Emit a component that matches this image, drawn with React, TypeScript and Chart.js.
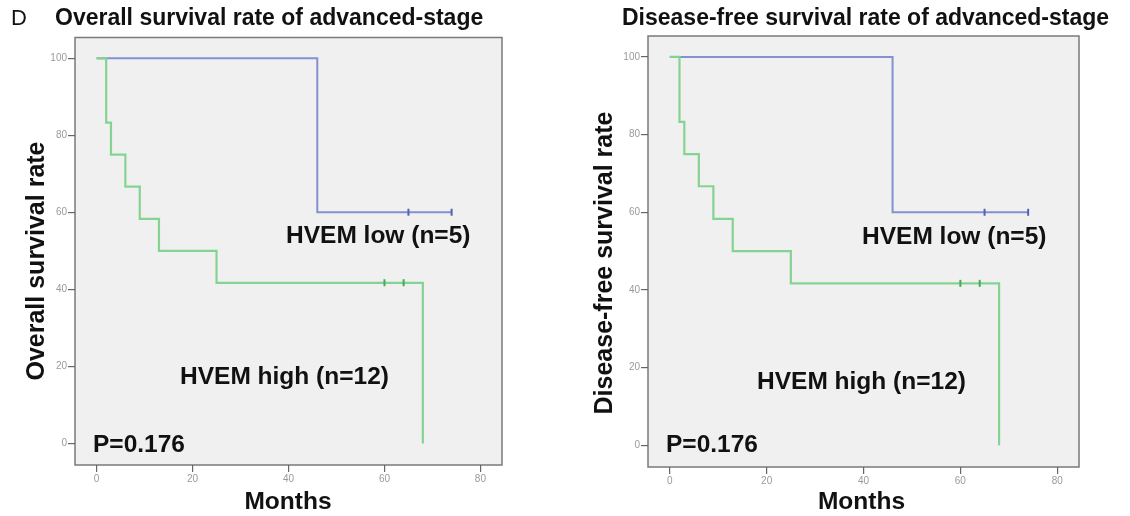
import React, { useEffect, useRef } from "react";
import { Chart, registerables } from "chart.js";

Chart.register(...registerables);

// ---- data ----
const xTickValues = [0, 20, 40, 60, 80];
const yTickValues = [0, 20, 40, 60, 80, 100];

const lowTimes = [0, 46, 74];
const lowSurvival = [100, 60, 60];
const lowCensorTimes = [65, 74];
const lowCensorSurvival = [60, 60];

const highTimes = [0, 2, 3, 6, 9, 13, 25, 68];
const highSurvival = [100, 83.3, 75, 66.7, 58.3, 50, 41.7, 0];
const highCensorTimes = [60, 64];
const highCensorSurvival = [41.7, 41.7];

const panelTitles = [
  "Overall survival rate of advanced-stage",
  "Disease-free survival rate of advanced-stage",
];
const yAxisTitles = ["Overall survival rate", "Disease-free survival rate"];
const xAxisTitle = "Months";
const lowLabel = "HVEM low (n=5)";
const highLabel = "HVEM high (n=12)";
const pLabel = "P=0.176";
const panelLetter = "D";

// ---- layout / style (not data) ----
const FONT = "'Liberation Sans', Arial, Helvetica, sans-serif";
const panels = [
  {
    offsetX: 0,
    left: 75,
    right: 502,
    top: 37.5,
    bottom: 465,
    letter: true,
    titleX: 55,
    yTitle: [37, 261],
    months: [288, 502],
    low: [286, 236],
    high: [180, 377],
    p: [93, 445],
  },
  {
    offsetX: 565,
    left: 83,
    right: 514,
    top: 36,
    bottom: 467,
    letter: false,
    titleX: 57,
    yTitle: [40, 263],
    months: [296.5, 502],
    low: [297, 237],
    high: [192, 382],
    p: [101, 445],
  },
];

const W = 565;
const H = 516;

function toPoints(xs: number[], ys: number[]) {
  return xs.map((x, i) => ({ x, y: ys[i] }));
}

function Panel({ index }: { index: number }) {
  const ref = useRef<HTMLCanvasElement>(null);
  const cfg = panels[index];

  useEffect(() => {
    if (!ref.current) return;
    const deco = {
      id: "deco",
      beforeDraw(chart: any) {
        const { ctx, chartArea: a } = chart;
        ctx.save();
        ctx.fillStyle = "#ffffff";
        ctx.fillRect(0, 0, chart.width, chart.height);
        ctx.fillStyle = "#f0f0f0";
        ctx.fillRect(a.left, a.top, a.right - a.left, a.bottom - a.top);
        ctx.strokeStyle = "#7a7a7a";
        ctx.lineWidth = 1.5;
        ctx.strokeRect(a.left, a.top, a.right - a.left, a.bottom - a.top);
        ctx.restore();
      },
      afterDraw(chart: any) {
        const { ctx } = chart;
        ctx.save();
        ctx.fillStyle = "#111111";
        ctx.textBaseline = "middle";
        ctx.textAlign = "left";
        if (cfg.letter) {
          ctx.font = `22px ${FONT}`;
          ctx.fillText(panelLetter, 11, 19);
        }
        ctx.font = `bold 23px ${FONT}`;
        ctx.fillText(panelTitles[index], cfg.titleX, 18.5);

        ctx.font = `bold 24.5px ${FONT}`;
        ctx.fillText(lowLabel, cfg.low[0], cfg.low[1]);
        ctx.fillText(highLabel, cfg.high[0], cfg.high[1]);
        ctx.font = `bold 24.5px ${FONT}`;
        ctx.fillText(pLabel, cfg.p[0], cfg.p[1]);

        ctx.textAlign = "center";
        ctx.font = `bold 24.5px ${FONT}`;
        ctx.fillText(xAxisTitle, cfg.months[0], cfg.months[1]);

        ctx.translate(cfg.yTitle[0], cfg.yTitle[1]);
        ctx.rotate(-Math.PI / 2);
        ctx.font = `bold 25px ${FONT}`;
        ctx.fillText(yAxisTitles[index], 0, 0);
        ctx.restore();
      },
    };

    const tickFont = { size: 10, family: FONT };
    const chart = new Chart(ref.current, {
      type: "line",
      data: {
        datasets: [
          {
            label: "HVEM high censored",
            data: toPoints(highCensorTimes, highCensorSurvival),
            showLine: false,
            pointStyle: "line",
            rotation: 90,
            pointRadius: 3.5,
            borderColor: "#3fae55",
            backgroundColor: "#3fae55",
            borderWidth: 2,
            order: 0,
          },
          {
            label: "HVEM low censored",
            data: toPoints(lowCensorTimes, lowCensorSurvival),
            showLine: false,
            pointStyle: "line",
            rotation: 90,
            pointRadius: 3.5,
            borderColor: "#5563b4",
            backgroundColor: "#5563b4",
            borderWidth: 2,
            order: 1,
          },
          {
            label: "HVEM high",
            data: toPoints(highTimes, highSurvival),
            stepped: "before",
            borderColor: "#85d392",
            borderWidth: 2.2,
            pointRadius: 0,
            fill: false,
            order: 2,
          },
          {
            label: "HVEM low",
            data: toPoints(lowTimes, lowSurvival),
            stepped: "before",
            borderColor: "#8590d0",
            borderWidth: 2,
            pointRadius: 0,
            fill: false,
            order: 3,
          },
        ] as any,
      },
      options: {
        responsive: false,
        animation: false,
        devicePixelRatio: 1,
        layout: {
          padding: { left: 0, right: W - cfg.right, top: cfg.top, bottom: 0 },
        },
        plugins: {
          legend: { display: false },
          title: { display: false },
          tooltip: { enabled: false },
        },
        scales: {
          x: {
            type: "linear",
            min: -4.5,
            max: 84.5,
            afterBuildTicks: (s: any) => {
              s.ticks = xTickValues.map((v) => ({ value: v }));
            },
            afterFit: (s: any) => {
              s.height = H - cfg.bottom;
            },
            grid: {
              drawOnChartArea: false,
              drawTicks: true,
              tickLength: 7,
              color: "#666666",
              lineWidth: 1.2,
            },
            border: { display: false },
            ticks: {
              font: tickFont,
              color: "#9a9a9a",
              padding: 1,
              maxRotation: 0,
              autoSkip: false,
            },
          },
          y: {
            type: "linear",
            min: -5.6,
            max: 105.4,
            afterBuildTicks: (s: any) => {
              s.ticks = yTickValues.map((v) => ({ value: v }));
            },
            afterFit: (s: any) => {
              s.width = cfg.left;
            },
            grid: {
              drawOnChartArea: false,
              drawTicks: true,
              tickLength: 7,
              color: "#666666",
              lineWidth: 1.2,
            },
            border: { display: false },
            ticks: {
              font: tickFont,
              color: "#9a9a9a",
              padding: 1,
              autoSkip: false,
            },
          },
        },
      } as any,
      plugins: [deco],
    });
    return () => chart.destroy();
  }, [index]);

  return (
    <div
      style={{
        position: "absolute",
        left: cfg.offsetX,
        top: 0,
        width: W,
        height: H,
      }}
    >
      <canvas ref={ref} width={W} height={H} style={{ width: W, height: H }} />
    </div>
  );
}

export default function App() {
  return (
    <div
      style={{
        position: "absolute",
        left: 0,
        top: 0,
        width: 1130,
        height: 516,
        background: "#ffffff",
        overflow: "hidden",
      }}
    >
      <Panel index={0} />
      <Panel index={1} />
    </div>
  );
}
